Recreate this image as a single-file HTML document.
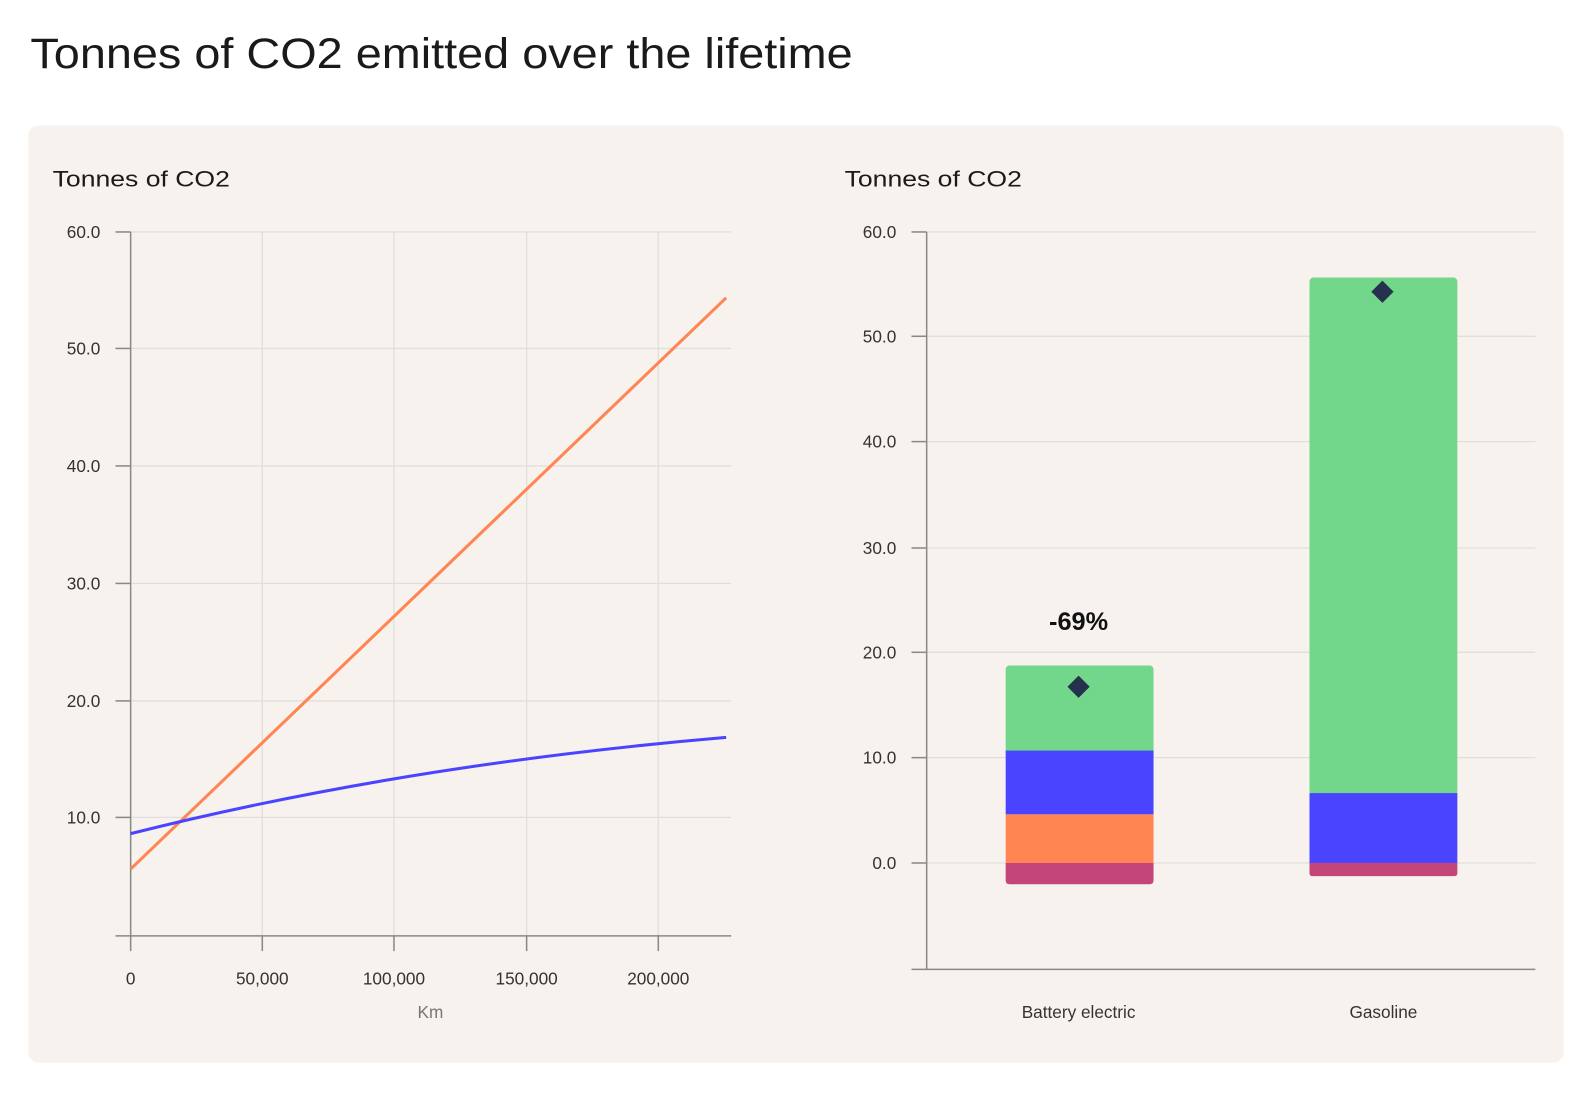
<!DOCTYPE html>
<html><head><meta charset="utf-8"><style>
html,body{margin:0;padding:0;background:#fff;width:1588px;height:1100px;overflow:hidden}
svg{display:block}
text{font-family:"Liberation Sans",sans-serif}
</style></head><body>
<svg width="1588" height="1100" viewBox="0 0 1568 1086" preserveAspectRatio="none">
<text x="30" y="67" font-size="42" fill="#1a1a1a" textLength="812" lengthAdjust="spacingAndGlyphs">Tonnes of CO2 emitted over the lifetime</text>
<rect x="28" y="124" width="1516" height="925" rx="10" fill="#f7f2ee"/>
<text x="52" y="184" font-size="22" fill="#1a1a1a" textLength="175" lengthAdjust="spacingAndGlyphs">Tonnes of CO2</text>
<text x="834" y="184" font-size="22" fill="#1a1a1a" textLength="175" lengthAdjust="spacingAndGlyphs">Tonnes of CO2</text>
<g stroke="#e2dedb" stroke-width="1.3">
<line x1="129" y1="229" x2="722" y2="229"/><line x1="129" y1="344" x2="722" y2="344"/><line x1="129" y1="460" x2="722" y2="460"/><line x1="129" y1="576" x2="722" y2="576"/><line x1="129" y1="692" x2="722" y2="692"/><line x1="129" y1="807" x2="722" y2="807"/>
<line x1="259" y1="229" x2="259" y2="924"/><line x1="389" y1="229" x2="389" y2="924"/><line x1="520" y1="229" x2="520" y2="924"/><line x1="650" y1="229" x2="650" y2="924"/>
</g>
<g stroke="#888" stroke-width="1.5">
<line x1="129" y1="229" x2="129" y2="924"/><line x1="114" y1="924" x2="722" y2="924"/>
<line x1="114" y1="229" x2="129" y2="229"/><line x1="114" y1="344" x2="129" y2="344"/><line x1="114" y1="460" x2="129" y2="460"/><line x1="114" y1="576" x2="129" y2="576"/><line x1="114" y1="692" x2="129" y2="692"/><line x1="114" y1="807" x2="129" y2="807"/>
<line x1="129" y1="924" x2="129" y2="939"/><line x1="259" y1="924" x2="259" y2="939"/><line x1="389" y1="924" x2="389" y2="939"/><line x1="520" y1="924" x2="520" y2="939"/><line x1="650" y1="924" x2="650" y2="939"/>
</g>
<g font-size="17" fill="#333" text-anchor="end">
<text x="99" y="235">60.0</text><text x="99" y="350">50.0</text><text x="99" y="466">40.0</text><text x="99" y="582">30.0</text><text x="99" y="698">20.0</text><text x="99" y="813">10.0</text>
</g>
<g font-size="17" fill="#333" text-anchor="middle">
<text x="129" y="972">0</text><text x="259" y="972">50,000</text><text x="389" y="972">100,000</text><text x="520" y="972">150,000</text><text x="650" y="972">200,000</text>
<text x="425" y="1005" fill="#777">Km</text>
</g>
<line x1="129" y1="858" x2="717" y2="294" stroke="#ff8552" stroke-width="3"/>
<path d="M129,823 Q400,755 717,728" fill="none" stroke="#4b44ff" stroke-width="3"/>
<g stroke="#e2dedb" stroke-width="1.3">
<line x1="915" y1="229" x2="1516" y2="229"/><line x1="915" y1="332" x2="1516" y2="332"/><line x1="915" y1="436" x2="1516" y2="436"/><line x1="915" y1="541" x2="1516" y2="541"/><line x1="915" y1="644" x2="1516" y2="644"/><line x1="915" y1="748" x2="1516" y2="748"/><line x1="915" y1="852" x2="1516" y2="852"/>
</g>
<g stroke="#888" stroke-width="1.5">
<line x1="915" y1="229" x2="915" y2="957"/><line x1="900" y1="957" x2="1516" y2="957"/>
<line x1="900" y1="229" x2="915" y2="229"/><line x1="900" y1="332" x2="915" y2="332"/><line x1="900" y1="436" x2="915" y2="436"/><line x1="900" y1="541" x2="915" y2="541"/><line x1="900" y1="644" x2="915" y2="644"/><line x1="900" y1="748" x2="915" y2="748"/><line x1="900" y1="852" x2="915" y2="852"/>
</g>
<g font-size="17" fill="#333" text-anchor="end">
<text x="885" y="235">60.0</text><text x="885" y="338">50.0</text><text x="885" y="442">40.0</text><text x="885" y="547">30.0</text><text x="885" y="650">20.0</text><text x="885" y="754">10.0</text><text x="885" y="858">0.0</text>
</g>
<rect x="993" y="657" width="146" height="90" rx="4" fill="#72d78a"/>
<rect x="993" y="741" width="146" height="63" fill="#4b44ff"/>
<rect x="993" y="804" width="146" height="48" fill="#ff8552"/>
<path d="M993,852 H1139 V869 Q1139,873 1135,873 H997 Q993,873 993,869 Z" fill="#c4457a"/>
<rect x="1293" y="274" width="146" height="515" rx="4" fill="#72d78a"/>
<rect x="1293" y="783" width="146" height="69" fill="#4b44ff"/>
<path d="M1293,852 H1439 V862 Q1439,865 1436,865 H1296 Q1293,865 1293,862 Z" fill="#c4457a"/>
<path d="M1065,667 L1076,678 L1065,689 L1054,678 Z" fill="#26324d"/>
<path d="M1365,277 L1376,288 L1365,299 L1354,288 Z" fill="#26324d"/>
<text x="1065" y="622" font-size="25" font-weight="bold" fill="#111" text-anchor="middle">-69%</text>
<g font-size="17" fill="#333" text-anchor="middle">
<text x="1065" y="1005">Battery electric</text><text x="1366" y="1005">Gasoline</text>
</g>
</svg>
</body></html>
